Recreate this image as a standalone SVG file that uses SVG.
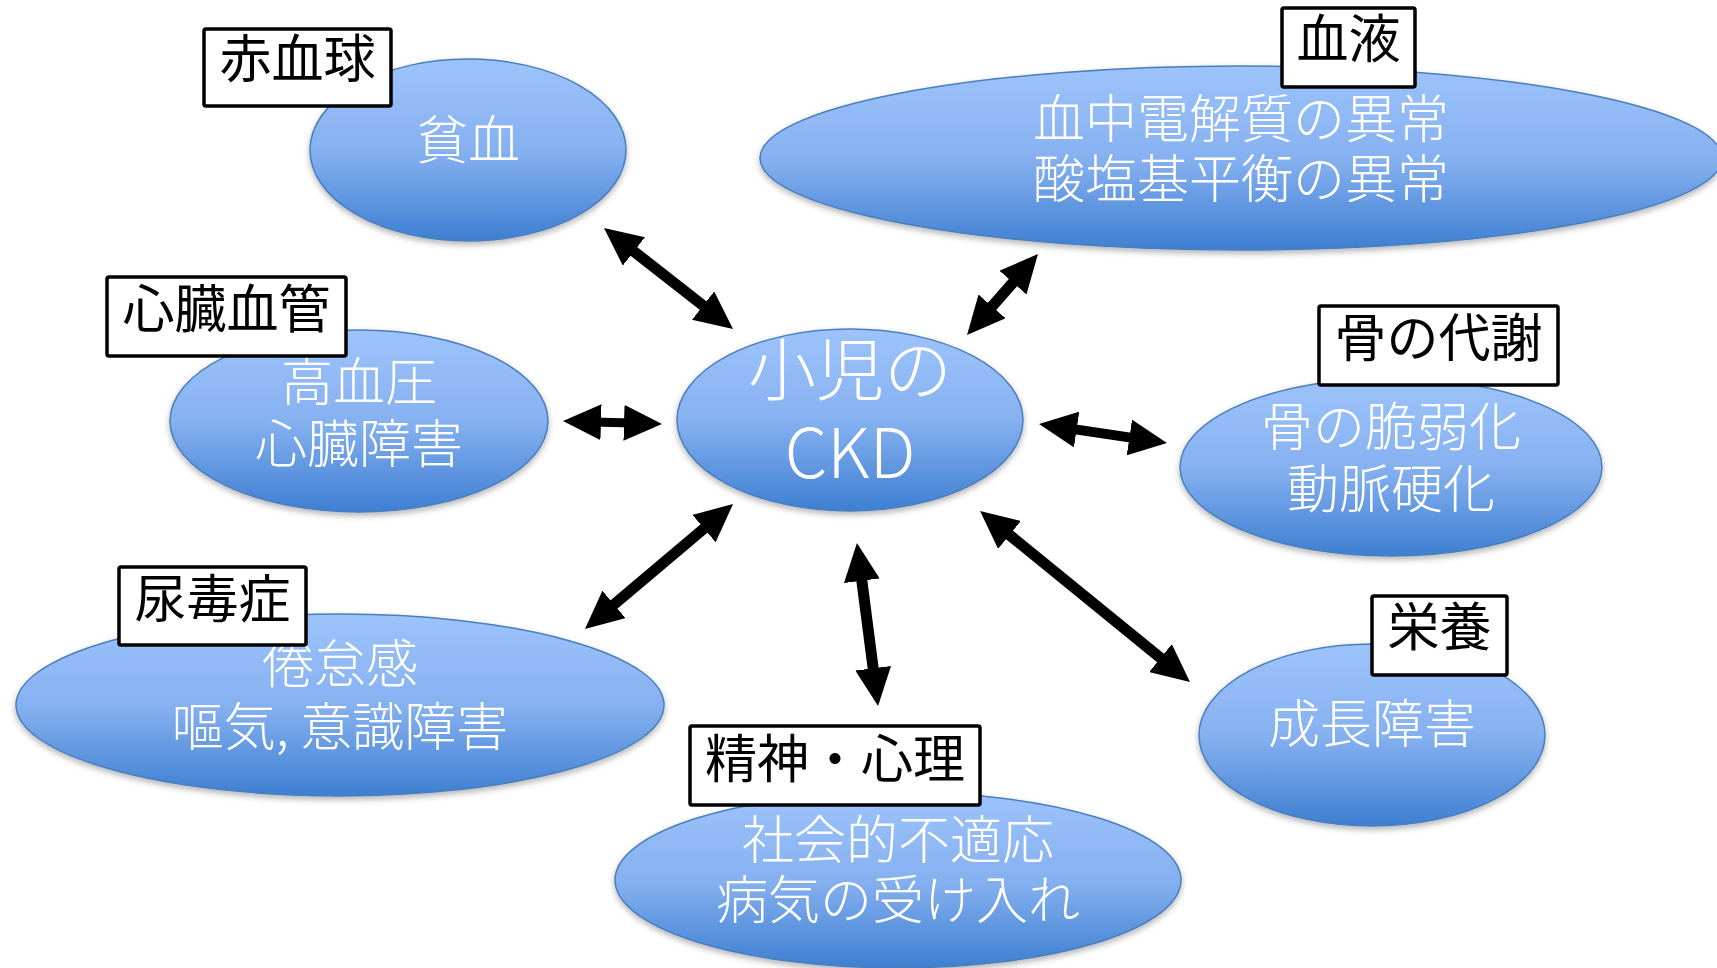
<svg xmlns="http://www.w3.org/2000/svg" width="1717" height="968" viewBox="0 0 1717 968">
<defs>
<linearGradient id="blueGrad" x1="0" y1="0" x2="0" y2="1">
<stop offset="0" stop-color="#9DC3FB"/>
<stop offset="0.5" stop-color="#86B1F0"/>
<stop offset="1" stop-color="#3E7FD2"/>
</linearGradient>
<filter id="shadow" x="-10%" y="-10%" width="120%" height="130%">
<feDropShadow dx="0" dy="3" stdDeviation="3" flood-color="#000" flood-opacity="0.3"/>
</filter>
<marker id="head" viewBox="0 0 38 36" refX="8" refY="18" markerWidth="38" markerHeight="36" markerUnits="userSpaceOnUse" orient="auto-start-reverse">
<path d="M0,0 L38,18 L0,36 z" fill="#000"/>
</marker>
</defs>
<style>
.bubble{fill:url(#blueGrad);stroke:#4A7EBB;stroke-width:1.5;filter:url(#shadow)}
.label{fill:#fff;stroke:#000;stroke-width:3.5}
.lt{font-family:"Noto Sans CJK JP","Noto Sans",sans-serif;font-size:52px;font-weight:400;fill:#000;text-anchor:middle}
.wt{font-family:"Noto Sans CJK JP","Noto Sans",sans-serif;font-size:52px;font-weight:300;fill:#fff;text-anchor:middle}
.ct{font-family:"Noto Sans CJK JP","Noto Sans",sans-serif;font-size:68px;font-weight:300;fill:#fff;text-anchor:middle}
.arrow{stroke:#000;stroke-width:11;fill:none;marker-start:url(#head);marker-end:url(#head)}
</style>
<rect width="1717" height="968" fill="#fff"/>

<g id="connectors">
<line class="arrow" x1="627.6" y1="246.5" x2="709.4" y2="310.5"/>
<line class="arrow" x1="1018.2" y1="276.6" x2="986.8" y2="312.4"/>
<line class="arrow" x1="593" y1="421.9" x2="632" y2="423.1" style="stroke-width:9"/>
<line class="arrow" x1="1068.7" y1="428.4" x2="1137.3" y2="438.6" style="stroke-width:10"/>
<line class="arrow" x1="710.1" y1="523.4" x2="607.9" y2="609.6"/>
<line class="arrow" x1="860.8" y1="572.8" x2="874.2" y2="676.2"/>
<line class="arrow" x1="1003.3" y1="529.9" x2="1166.7" y2="663.1"/>
</g>

<g id="node-anemia">
<ellipse class="bubble" cx="468" cy="150" rx="158" ry="91"/>
<text class="wt" x="468" y="159">貧血</text>
<rect class="label" x="204" y="29" width="187" height="77" rx="2"/>
<text class="lt" x="297.5" y="78">赤血球</text>
</g>

<g id="node-blood">
<ellipse class="bubble" cx="1241" cy="158" rx="481" ry="92"/>
<text class="wt"><tspan x="1241" y="138">血中電解質の異常</tspan><tspan x="1241" y="198">酸塩基平衡の異常</tspan></text>
<rect class="label" x="1282" y="8" width="133" height="79" rx="2"/>
<text class="lt" x="1348.5" y="58">血液</text>
</g>

<g id="node-cardio">
<ellipse class="bubble" cx="359" cy="421" rx="189" ry="91"/>
<text class="wt"><tspan x="359" y="401">高血圧</tspan><tspan x="359" y="463">心臓障害</tspan></text>
<rect class="label" x="107" y="277" width="239" height="79" rx="2"/>
<text class="lt" x="226.5" y="328">心臓血管</text>
</g>

<g id="node-ckd">
<ellipse class="bubble" cx="850" cy="420" rx="173" ry="91"/>
<text class="ct"><tspan x="850" y="395">小児の</tspan><tspan x="850" y="478">CKD</tspan></text>
</g>

<g id="node-bone">
<ellipse class="bubble" cx="1391" cy="467" rx="211" ry="89"/>
<text class="wt"><tspan x="1391" y="446">骨の脆弱化</tspan><tspan x="1391" y="508">動脈硬化</tspan></text>
<rect class="label" x="1319" y="306" width="239" height="79" rx="2"/>
<text class="lt" x="1438.5" y="357">骨の代謝</text>
</g>

<g id="node-uremia">
<ellipse class="bubble" cx="340" cy="705" rx="324" ry="91"/>
<text class="wt"><tspan x="340" y="683">倦怠感</tspan><tspan x="340" y="746">嘔気, 意識障害</tspan></text>
<rect class="label" x="119" y="567" width="187" height="78" rx="2"/>
<text class="lt" x="212.5" y="618">尿毒症</text>
</g>

<g id="node-psych">
<ellipse class="bubble" cx="898" cy="880" rx="283" ry="88"/>
<text class="wt"><tspan x="898" y="859">社会的不適応</tspan><tspan x="898" y="919">病気の受け入れ</tspan></text>
<rect class="label" x="690" y="726" width="290" height="79" rx="2"/>
<text class="lt" x="835" y="778">精神・心理</text>
</g>

<g id="node-nutrition">
<ellipse class="bubble" cx="1372" cy="735" rx="173" ry="91"/>
<text class="wt" x="1372" y="743">成長障害</text>
<rect class="label" x="1372" y="596" width="135" height="79" rx="2"/>
<text class="lt" x="1439.5" y="646">栄養</text>
</g>
</svg>
